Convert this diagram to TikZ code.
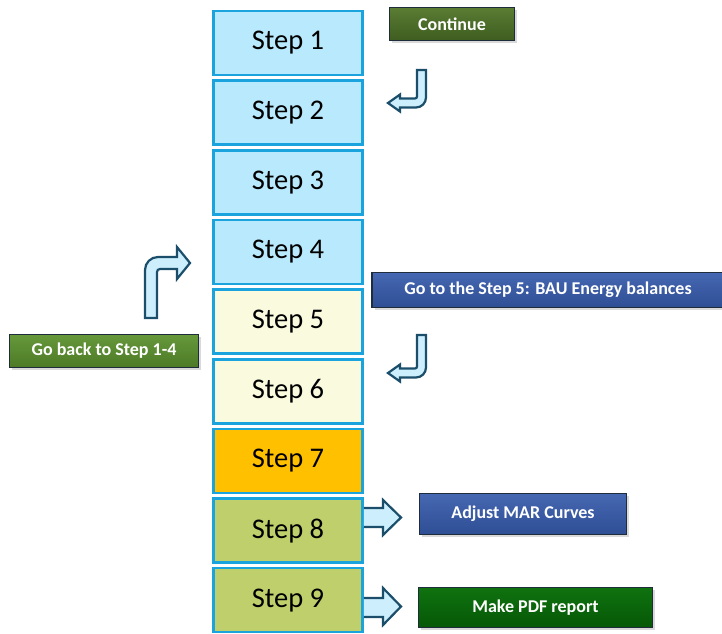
\documentclass[tikz,border=0pt]{standalone}
\usepackage{fontspec}
\setmainfont{Carlito}
\usetikzlibrary{shadows}
\definecolor{stepborder}{HTML}{1AA3DC}
\definecolor{stepblue}{HTML}{B9E9FC}
\definecolor{stepyellow}{HTML}{FAFADF}
\definecolor{steporange}{HTML}{FFC000}
\definecolor{stepolive}{HTML}{BFCF6C}
\definecolor{arrowline}{HTML}{1B4E6B}
\definecolor{arrowfill}{HTML}{CDEEFC}
\definecolor{btnborder}{HTML}{1F2C3C}
\definecolor{greenA}{HTML}{5A7C33}
\definecolor{greenB}{HTML}{3E5D20}
\definecolor{greenC}{HTML}{66983B}
\definecolor{greenD}{HTML}{4C7A26}
\definecolor{blueA}{HTML}{4668B2}
\definecolor{blueB}{HTML}{2E4E94}
\definecolor{dgreenA}{HTML}{0F720F}
\definecolor{dgreenB}{HTML}{065806}
\tikzset{
  stepbox/.style={draw=stepborder, line width=2.5pt, minimum width=149pt, minimum height=64pt, inner sep=0pt, font=\fontsize{28.5}{30}\selectfont},
  button/.style={draw=btnborder, line width=1.6pt, text=white, font=\bfseries\fontsize{18}{20}\selectfont, inner sep=0pt,
    drop shadow={shadow xshift=2.5pt, shadow yshift=-2.5pt, opacity=0.3}},
  blockarrow/.style={draw=arrowline, fill=arrowfill, line width=2.2pt, line join=miter}
}
\begin{document}
\begin{tikzpicture}[x=1pt,y=-1pt]
\useasboundingbox (0,0) rectangle (722,633);
% steps
\node[stepbox, fill=stepblue]   (s1) at (288,43.0)  {Step 1};
\node[stepbox, fill=stepblue]   (s2) at (288,112.65) {Step 2};
\node[stepbox, fill=stepblue]   (s3) at (288,182.3) {Step 3};
\node[stepbox, fill=stepblue]   (s4) at (288,251.95) {Step 4};
\node[stepbox, fill=stepyellow] (s5) at (288,321.6) {Step 5};
\node[stepbox, fill=stepyellow] (s6) at (288,391.25) {Step 6};
\node[stepbox, fill=steporange] (s7) at (288,460.9) {Step 7};
\node[stepbox, fill=stepolive]  (s8) at (288,530.55) {Step 8};
\node[stepbox, fill=stepolive]  (s9) at (288,600.2) {Step 9};
% buttons
\node[button, top color=greenA, bottom color=greenB, minimum width=125pt, minimum height=33pt] (bcont) at (452,24) {Continue};
\node[button, top color=blueA, bottom color=blueB, minimum width=352pt, minimum height=35pt] (bgo5) at (548,290) {Go to the Step 5: BAU Energy balances};
\node[button, top color=greenC, bottom color=greenD, minimum width=189pt, minimum height=33pt] (bback) at (104,351) {Go back to Step 1-4};
\node[button, top color=blueA, bottom color=blueB, minimum width=207pt, minimum height=41pt] (bmar) at (523,514) {Adjust MAR Curves};
\node[button, top color=dgreenA, bottom color=dgreenB, minimum width=234pt, minimum height=40pt] (bpdf) at (535.5,607.5) {Make PDF report};
% bent arrows
\draw[blockarrow] (417,70) -- (426,70) -- (426,97.5) .. controls (426,103) and (421.5,107.5) .. (416,107.5) -- (400,107.5) -- (400,111.5) -- (388,103) -- (400,94.5) -- (400,98.5) -- (415,98.5) .. controls (416.1,98.5) and (417,97.6) .. (417,96.5) -- cycle;
\draw[blockarrow] (417,335) -- (426,335) -- (426,367.5) .. controls (426,373) and (421.5,377.5) .. (416,377.5) -- (400,377.5) -- (400,381.5) -- (388,373) -- (400,364.5) -- (400,368.5) -- (415,368.5) .. controls (416.1,368.5) and (417,367.6) .. (417,366.5) -- cycle;
\draw[blockarrow] (145,318) -- (145,270) .. controls (145,262.8) and (150.8,257) .. (158,257) -- (177,257) -- (177,247) -- (190,263) -- (177,279) -- (177,269) -- (160,269) .. controls (158.3,269) and (157,270.3) .. (157,272) -- (157,318) -- cycle;
% right arrows
\filldraw[blockarrow] (s8.east |- 0,508) -- (383,508) -- (383,500) -- (401,517.5) -- (383,535) -- (383,527) -- (s8.east |- 0,527);
\filldraw[blockarrow] (s9.east |- 0,598) -- (383,598) -- (383,588) -- (401,606.5) -- (383,625) -- (383,617) -- (s9.east |- 0,617);
\end{tikzpicture}
\end{document}
